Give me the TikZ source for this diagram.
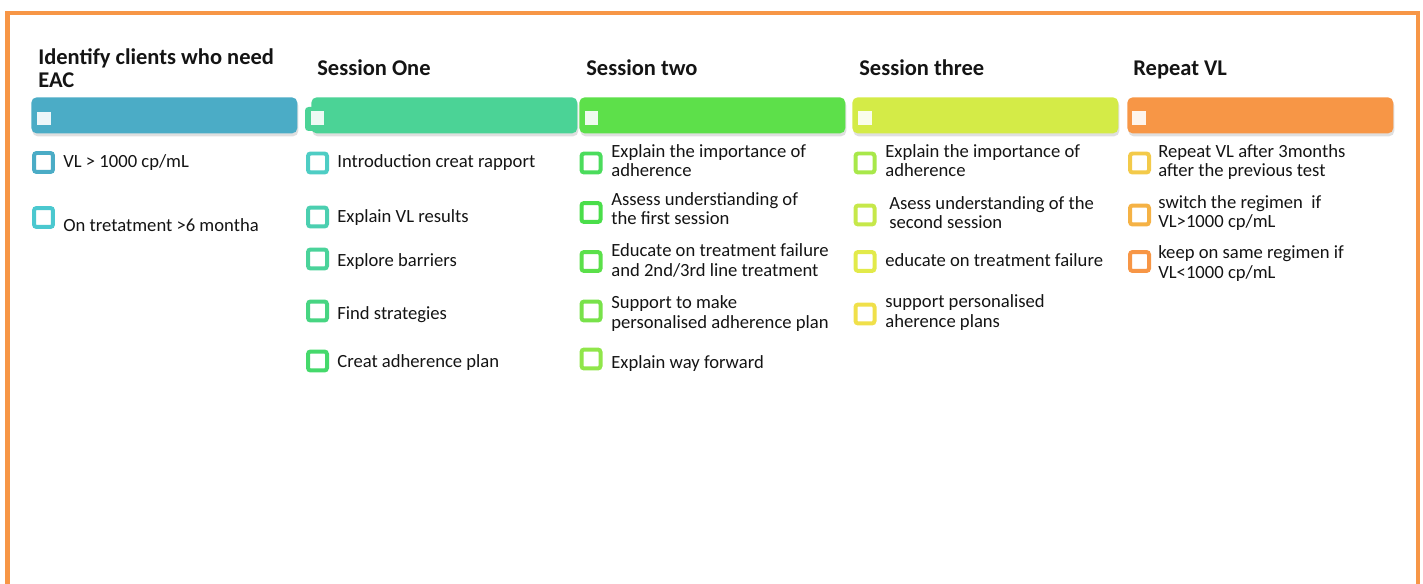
\documentclass[tikz,border=0pt]{standalone}
\usepackage{fontspec}
\setmainfont{Carlito}
\usetikzlibrary{shadows}
\definecolor{frameorange}{RGB}{247, 150, 70}
\definecolor{barblue}{RGB}{75, 172, 198}
\definecolor{barteal}{RGB}{75, 211, 150}
\definecolor{bargreen}{RGB}{93, 224, 74}
\definecolor{barlime}{RGB}{212, 235, 71}
\definecolor{barorange}{RGB}{247, 150, 70}
\definecolor{darktext}{RGB}{20, 20, 20}
% checkbox colours, column by column
\definecolor{ca1}{RGB}{75, 172, 198}
\definecolor{ca2}{RGB}{75, 200, 207}
\definecolor{cb1}{RGB}{78, 205, 196}
\definecolor{cb2}{RGB}{75, 207, 176}
\definecolor{cb3}{RGB}{74, 211, 154}
\definecolor{cb4}{RGB}{71, 213, 130}
\definecolor{cb5}{RGB}{69, 217, 107}
\definecolor{cc1}{RGB}{75, 220, 92}
\definecolor{cc2}{RGB}{74, 222, 74}
\definecolor{cc3}{RGB}{91, 224, 74}
\definecolor{cc4}{RGB}{120, 226, 74}
\definecolor{cc5}{RGB}{144, 230, 74}
\definecolor{cd1}{RGB}{168, 232, 74}
\definecolor{cd2}{RGB}{198, 232, 74}
\definecolor{cd3}{RGB}{226, 234, 74}
\definecolor{cd4}{RGB}{240, 224, 74}
\definecolor{ce1}{RGB}{243, 202, 74}
\definecolor{ce2}{RGB}{245, 178, 69}
\definecolor{ce3}{RGB}{247, 150, 70}
\newcommand{\headfnt}{\fontsize{12.8}{13.6}\selectfont\bfseries}
\newcommand{\itemfnt}{\fontsize{10.6}{11.2}\selectfont}

\begin{document}
\begin{tikzpicture}[
    x=0.02cm, y=-0.02cm,
    head/.style={anchor=base west, inner sep=0pt, align=left, font=\headfnt, text=darktext},
    bar/.style={anchor=north west, rounded corners=3pt, minimum width=5.32cm, minimum height=0.72cm,
                inner sep=0pt, drop shadow={shadow xshift=0.02cm, shadow yshift=-0.06cm, opacity=0.25}},
    barsq/.style={fill=white, fill opacity=0.9, minimum size=0.27cm, inner sep=0pt},
    chk/.style={draw=#1, line width=0.08cm, fill=white, minimum size=0.38cm, inner sep=0pt, rounded corners=1.5pt},
    txt/.style={anchor=base west, inner sep=0pt, align=left, font=\itemfnt, text=darktext}
]
\useasboundingbox (0,0) rectangle (1423,584);

% Frame
\draw[frameorange, line width=0.09cm] (7.5,584) -- (7.5,13) -- (1418,13) -- (1418,584);

% Headings (base = last line)
\node[head] (h1) at (38,88) {Identify clients who need\\EAC};
\node[head] (h2) at (317,76) {Session One};
\node[head] (h3) at (586,76) {Session two};
\node[head] (h4) at (859,76) {Session three};
\node[head] (h5) at (1133,76) {Repeat VL};

% Bars
\fill[barteal, rounded corners=2pt] (305,107) rectangle (316,131);
\node[bar, fill=barblue] (bar1) at (31,97) {};
\node[bar, fill=barteal] (bar2) at (311,97) {};
\node[bar, fill=bargreen] (bar3) at (579,97) {};
\node[bar, fill=barlime] (bar4) at (852,97) {};
\node[bar, fill=barorange] (bar5) at (1127,97) {};

\node[barsq] (sq1) at (44,118.5) {};
\node[barsq] (sq2) at (317.5,118) {};
\node[barsq] (sq3) at (591.5,118) {};
\node[barsq] (sq4) at (865,118) {};
\node[barsq] (sq5) at (1139,118) {};

% Identify clients
\node[chk=ca1] (c1a) at (43.5,162.5) {};
\node[chk=ca2] (c1b) at (43.5,217.5) {};
\node[txt] (t1a) at (63,168) {VL > 1000 cp/mL};
\node[txt] (t1b) at (63,232) {On tretatment >6 montha};

% Session one
\node[chk=cb1] (c2a) at (317.5,163) {};
\node[chk=cb2] (c2b) at (317.5,217) {};
\node[chk=cb3] (c2c) at (317.5,259) {};
\node[chk=cb4] (c2d) at (317.5,311) {};
\node[chk=cb5] (c2e) at (317.5,361) {};
\node[txt] (t2a) at (337,168) {Introduction creat rapport};
\node[txt] (t2b) at (337,223) {Explain VL results};
\node[txt] (t2c) at (337,267) {Explore barriers};
\node[txt] (t2d) at (337,319) {Find strategies};
\node[txt] (t2e) at (337,367) {Creat adherence plan};

% Session two
\node[chk=cc1] (c3a) at (591,163) {};
\node[chk=cc2] (c3b) at (591,212.5) {};
\node[chk=cc3] (c3c) at (591,261.5) {};
\node[chk=cc4] (c3d) at (591,311) {};
\node[chk=cc5] (c3e) at (591,359) {};
\node[txt] (t3a) at (611,177) {Explain the importance of\\adherence};
\node[txt] (t3b) at (611,225) {Assess understianding of\\the first session};
\node[txt] (t3c) at (611,276) {Educate on treatment failure\\and 2nd/3rd line treatment};
\node[txt] (t3d) at (611,328) {Support to make\\personalised adherence plan};
\node[txt] (t3e) at (611,368) {Explain way forward};

% Session three
\node[chk=cd1] (c4a) at (865,163) {};
\node[chk=cd2] (c4b) at (865,215) {};
\node[chk=cd3] (c4c) at (865,261.5) {};
\node[chk=cd4] (c4d) at (865,314) {};
\node[txt] (t4a) at (885,177) {Explain the importance of\\adherence};
\node[txt] (t4b) at (889,229) {Asess understanding of the\\second session};
\node[txt] (t4c) at (885,267) {educate on treatment failure};
\node[txt] (t4d) at (885,327) {support personalised\\aherence plans};

% Repeat VL
\node[chk=ce1] (c5a) at (1139.5,163) {};
\node[chk=ce2] (c5b) at (1139.5,215) {};
\node[chk=ce3] (c5c) at (1139.5,261.5) {};
\node[txt] (t5a) at (1158,177) {Repeat VL after 3months\\after the previous test};
\node[txt] (t5b) at (1158,228) {switch the regimen\ \ if\\VL>1000 cp/mL};
\node[txt] (t5c) at (1158,278) {keep on same regimen if\\VL<1000 cp/mL};

\end{tikzpicture}
\end{document}
